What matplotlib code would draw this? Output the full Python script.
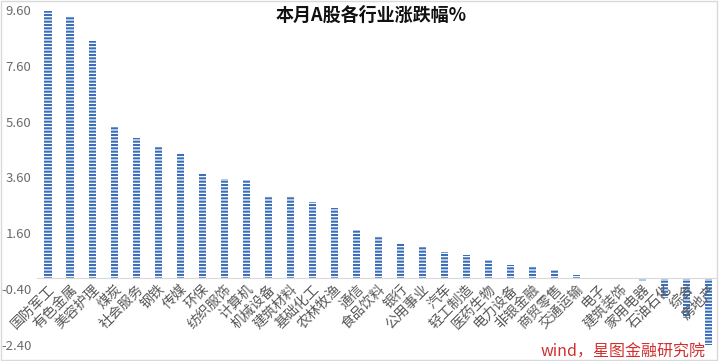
import matplotlib
matplotlib.use("Agg")
import matplotlib.pyplot as plt
import numpy as np

plt.rcParams['font.family'] = ['Noto Sans CJK SC', 'DejaVu Sans']
plt.rcParams['hatch.linewidth'] = 1.5

# industries and monthly change (%)
industries = ['国防军工', '有色金属', '美容护理', '煤炭', '社会服务', '钢铁', '传媒', '环保',
              '纺织服饰', '计算机', '机械设备', '建筑材料', '基础化工', '农林牧渔', '通信',
              '食品饮料', '银行', '公用事业', '汽车', '轻工制造', '医药生物', '电力设备',
              '非银金融', '商贸零售', '交通运输', '电子', '建筑装饰', '家用电器', '石油石化',
              '综合', '房地产']
changes = [9.57, 9.37, 8.50, 5.40, 5.02, 4.72, 4.43, 3.71,
           3.54, 3.50, 2.94, 2.92, 2.71, 2.50, 1.71,
           1.50, 1.24, 1.12, 0.92, 0.82, 0.63, 0.45,
           0.42, 0.29, 0.10, 0.01, -0.03, -0.10, -0.71,
           -1.43, -2.39]
yticks = [-2.4, -0.4, 1.6, 3.6, 5.6, 7.6, 9.6]

fig = plt.figure(figsize=(7.2, 3.61), dpi=100)
ax = fig.add_axes([37 / 720, 1 - 345 / 361, (716 - 37) / 720, (345 - 10) / 361])

x = np.arange(len(industries))
ax.bar(x, changes, width=0.32, color='white', edgecolor='#3a6fb8', hatch='-----', linewidth=0)

ax.set_xlim(-0.5, 30.35)
ax.set_ylim(-2.4, 9.6)
ax.set_yticks(yticks)
ax.set_yticklabels(['%.2f' % v for v in yticks], fontsize=9.5, color='#6b6b6b')
ax.tick_params(axis='y', length=0, pad=4)

ax.spines['bottom'].set_position(('data', 0))
ax.spines['bottom'].set_color('#d9d9d9')
for s in ['top', 'right', 'left']:
    ax.spines[s].set_visible(False)

ax.set_xticks(x)
ax.set_xticklabels(industries, rotation=45, ha='right', rotation_mode='anchor',
                   fontsize=10, color='#595959')
ax.tick_params(axis='x', length=0, pad=3)

fig.text(371 / 720, 1 - 15 / 361, '本月A股各行业涨跌幅%', ha='center', va='center',
         fontsize=13, fontweight='bold', color='#111111')
fig.text(706 / 720, 1 - 352 / 361, 'wind，星图金融研究院', ha='right', va='center',
         fontsize=11.5, style='italic', color='#d23030')

# light frame around the picture
fig.patches.append(plt.Rectangle((0.002, 0.003), 0.994, 0.993, transform=fig.transFigure,
                                 fill=False, edgecolor='#d9d9d9', linewidth=1))

fig.savefig('out.png', dpi=100)
